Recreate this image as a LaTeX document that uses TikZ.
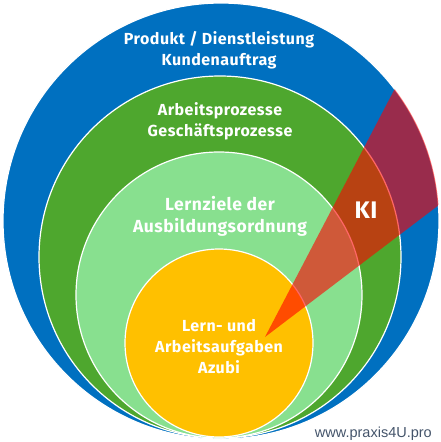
\documentclass[tikz,border=0pt]{standalone}
\usepackage{fontspec}
\setmainfont{Fira Sans}[LetterSpace=3]
\newfontfamily\webfont{Liberation Sans}
\definecolor{RingBlue}{HTML}{0070C0}
\definecolor{RingGreen}{HTML}{4EA72E}
\definecolor{RingLight}{HTML}{88E08F}
\definecolor{RingGold}{HTML}{FFC000}
\definecolor{WebGray}{HTML}{44546A}
\begin{document}
\begin{tikzpicture}[x=1pt,y=-1pt]
    \tikzset{r/.style={circle,draw=white,line width=1.2pt,inner sep=0pt},
      t/.style={text=white,font=\bfseries\fontsize{16}{21}\selectfont,align=center}}
    \useasboundingbox (0,0) rectangle (441,442);
    \node[r,fill=RingBlue,minimum size=436pt] (kunde) at (221,221) {};
    \node[r,fill=RingGreen,minimum size=362pt] (prozess) at (220,257) {};
    \node[r,fill=RingLight,minimum size=286pt] (lernziel) at (219,295) {};
    \node[r,fill=RingGold,minimum size=188pt] (azubi) at (219,343) {};
    \coordinate (spitze) at (265,337);
    \begin{scope}
      \clip (kunde.center) circle (218pt);
      \fill[red,opacity=0.6] (spitze) -- +(37.2:330pt) -- +(62.4:330pt) -- cycle;
    \end{scope}
    \node[t] (kundeT) at (219,50) {Produkt / Dienstleistung\\Kundenauftrag};
    \node[t] (prozessT) at (220,121) {Arbeitsprozesse\\Geschäftsprozesse};
    \node[t,font=\bfseries\fontsize{17.5}{22}\selectfont] (lernzielT) at (220,216) {Lernziele der\\Ausbildungsordnung};
    \node[t] (azubiT) at (219,347) {Lern- und\\Arbeitsaufgaben\\Azubi};
    \node[t,font=\bfseries\fontsize{24}{24}\selectfont] (ki) at (366,210) {KI};
    \node[text=WebGray,font=\webfont\fontsize{14.5}{17}\selectfont,anchor=base east,inner sep=0pt] (web) at (432,437.5) {www.praxis4U.pro};
  \end{tikzpicture}
\end{document}
